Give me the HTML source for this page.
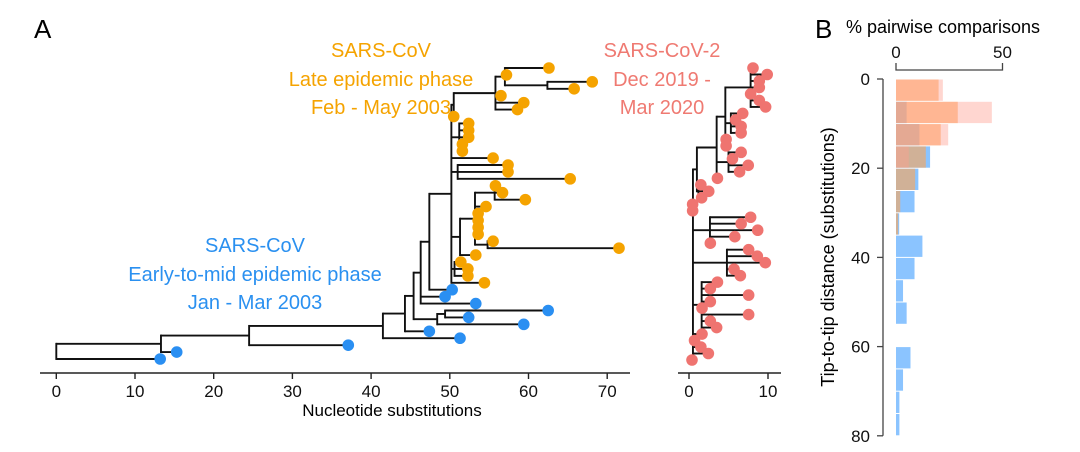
<!DOCTYPE html>
<html><head><meta charset="utf-8"><style>
body{margin:0;background:#fff;}
svg{display:block;font-family:"Liberation Sans",Arial,sans-serif;}
</style></head><body>
<svg id="fig" width="1080" height="452" viewBox="0 0 1080 452">
<g id="treeA"></g>
<g id="treeB"></g>
<g id="hist"></g>
<text x="34" y="38" font-size="26">A</text>
<text x="815" y="38" font-size="26">B</text>
<g fill="#f5a300" font-size="20" text-anchor="middle">
<text x="381" y="57">SARS-CoV</text><text x="381" y="86">Late epidemic phase</text><text x="381" y="114">Feb - May 2003</text></g>
<g fill="#ef7a72" font-size="20" text-anchor="middle">
<text x="662" y="57">SARS-CoV-2</text><text x="662" y="86">Dec 2019 -</text><text x="662" y="114">Mar 2020</text></g>
<g fill="#2a90f0" font-size="20" text-anchor="middle">
<text x="255" y="252">SARS-CoV</text><text x="255" y="281">Early-to-mid epidemic phase</text><text x="255" y="309">Jan - Mar 2003</text></g>
<text x="392" y="416" font-size="17" text-anchor="middle">Nucleotide substitutions</text>
<text x="943" y="33" font-size="18" text-anchor="middle">% pairwise comparisons</text>
<text transform="translate(834,257) rotate(-90)" font-size="18" text-anchor="middle">Tip-to-tip distance (substitutions)</text>
</svg>
<script>
// ---- data ----
function N(x,c){return {x:x,c:c};}
const lateClade = N(50.2,[
  N(50.5,[N(55.8,[N(57.0,[62.6,57.2,N(62.4,[68.1,65.8])]),56.5,59.4,58.6]),50.5]),
  N(51.2,[52.4,52.4,52.4,51.6,51.6]),
  55.5,
  N(51.0,[57.4,57.4,65.3]),
  N(51.3,[N(53.2,[N(55.7,[55.8,56.7,59.6]),54.6,53.6,53.6,53.6,53.6,N(54.8,[55.5,71.5])]),53.3]),
  N(50.6,[51.4,52.3,52.3]),
  54.4
]);
lateClade.late = true;
const treeSars = N(0,[N(13.3,[N(24.5,[N(41.5,[N(44.3,[N(45.4,[
  N(46.3,[N(47.4,[lateClade,50.3]),49.4,53.3]),
  N(48.4,[N(49.4,[62.5,52.4]),59.4])]),47.4]),51.3]),37.1]),15.3]),13.2]);
const treeSars2 = N(0.5,[
  N(1.0,[N(3.5,[N(4.6,[N(7.8,[8.1,9.9,8.9,8.9,7.8,8.9,9.7]),N(5.3,[6.8,5.9,6.6,6.6]),4.7,4.7]),N(5.0,[6.6,5.5,7.5,6.4]),3.6]),N(1.2,[1.5,2.5,1.6])]),
  0.46,0.46,
  N(2.65,[7.8,6.6,8.7,5.8,2.7]),
  N(4.8,[7.55,8.65,9.66,5.7,6.5]),
  N(1.6,[3.6,2.7,7.55,2.7,1.65,7.55,2.7,3.5]),
  1.65,0.7,1.5,2.45,0.38
]);
const ticksA = [0,10,20,30,40,50,60,70];
const ticksB = [0,10];
const binStarts = [0,5,10,15,20,25,30,35,40,45,50,55,60,65,70,75];
const histEarly = [0,5,11,16,10.5,8.7,1.5,12.4,8.7,3.3,5,0,6.8,3.3,1.6,1.6];
const histLate  = [20,29,21,14,9,2,1,0,0,0,0,0,0,0,0,0];
const histSars2 = [22,45,24.5,6,0,0,0,0,0,0,0,0,0,0,0,0];
const histYTicks = [0,20,40,60,80];
const histXTicks = [0,50];

// ---- drawing ----
const NS="http://www.w3.org/2000/svg";
function el(tag,attrs,parent){const e=document.createElementNS(NS,tag);for(const k in attrs)e.setAttribute(k,attrs[k]);parent.appendChild(e);return e;}
const BLUE="#2a8ff2",ORANGE="#f5a300",RED="#ef7470";
const SW=1.9;
function countTips(n){return typeof n==="number"?1:n.c.reduce((s,c)=>s+countTips(c),0);}
function drawTree(root,g,sx,y0,y1,defColor){
  const total=countTips(root);const dy=(y1-y0)/(total-1);let idx=0;const tips=[];
  function rec(n,px,color){
    if(typeof n==="number"){const y=y0+dy*idx++;tips.push([sx(n),y,color]);
      if(px!==null){const l=el('line',{x1:sx(px),x2:sx(n),y1:y,y2:y,stroke:'#111','stroke-width':SW},g);}
      return y;}
    const col=n.late?ORANGE:color;
    const ys=n.c.map(c=>rec(c,n.x,col));
    const y=(ys[0]+ys[ys.length-1])/2;
    const v=el('line',{x1:sx(n.x),x2:sx(n.x),y1:ys[0]-SW/2,y2:ys[ys.length-1]+SW/2,stroke:'#111','stroke-width':SW},g);
    
    if(px!==null){const h=el('line',{x1:sx(px),x2:sx(n.x),y1:y,y2:y,stroke:'#111','stroke-width':SW},g);}
    return y;}
  rec(root,null,defColor);
  tips.forEach(t=>{const c=el('circle',{cx:t[0],cy:t[1],r:5.8,fill:t[2]},g);
    });
}
function drawAxis(g,sx,ticks,xa,xb,y){
  const a=el('line',{x1:xa,x2:xb,y1:y,y2:y,stroke:'#222','stroke-width':1.4},g);
  
  ticks.forEach(t=>{const l=el('line',{x1:sx(t),x2:sx(t),y1:y,y2:y+6,stroke:'#222','stroke-width':1.4},g);
    
    const tx=el('text',{x:sx(t),y:y+24,'font-size':17,'text-anchor':'middle',fill:'#111'},g);tx.textContent=t;
    });
}
const gA=document.getElementById('treeA');
const sxA=v=>56.3+v*7.87;
drawTree(treeSars,gA,sxA,68,359,BLUE);
drawAxis(gA,sxA,ticksA,40,630,373);
const gB=document.getElementById('treeB');
const sxB=v=>689+v*7.9;
drawTree(treeSars2,gB,sxB,68,360,RED);
drawAxis(gB,sxB,ticksB,678,781,373);

const gH=document.getElementById('hist');
const hy=v=>79+v*4.46, hx=p=>896+p*2.13;
const series=[[histEarly,'#5aabff',0.7,'bar-early'],[histLate,'#ffa552',0.6,'bar-late'],[histSars2,'#ff9d8f',0.42,'bar-sars-cov-2']];
series.forEach(s=>{s[0].forEach((v,i)=>{if(v<=0)return;
  const r=el('rect',{x:hx(0),y:hy(binStarts[i])+0.5,width:hx(v)-hx(0),height:hy(binStarts[i]+5)-hy(binStarts[i])-1,fill:s[1],'fill-opacity':s[2]},gH);
  });});
const ya=el('line',{x1:883,x2:883,y1:hy(0),y2:hy(80),stroke:'#444','stroke-width':1.3},gH);

histYTicks.forEach(t=>{const l=el('line',{x1:877,x2:883,y1:hy(t),y2:hy(t),stroke:'#444','stroke-width':1.3},gH);
  
  const tx=el('text',{x:870,y:hy(t)+6,'font-size':17,'text-anchor':'end',fill:'#111'},gH);tx.textContent=t;
  });
const xa=el('path',{d:`M${hx(0)},63V70H${hx(50)}V63`,fill:'none',stroke:'#444','stroke-width':1.3},gH);

histXTicks.forEach(t=>{const tx=el('text',{x:hx(t),y:58,'font-size':17,'text-anchor':'middle',fill:'#111'},gH);tx.textContent=t;
  });
</script>
</body></html>
